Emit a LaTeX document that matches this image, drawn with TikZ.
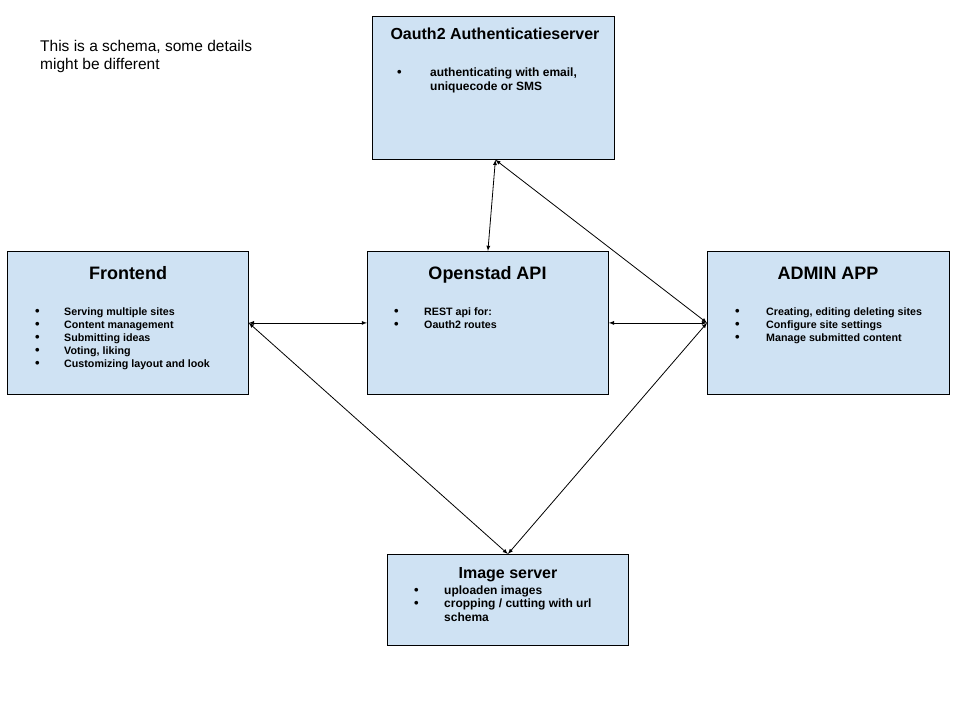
\documentclass[tikz,border=0pt]{standalone}
\usepackage{fontspec}
\setmainfont{Liberation Sans}
\definecolor{boxblue}{HTML}{CFE2F3}
\newcommand{\dotmark}{{\fontsize{13}{13}\selectfont\textbullet}}
\begin{document}
\begin{tikzpicture}[
			x=1pt, y=-1pt,
			box/.style={draw, fill=boxblue, line width=0.8pt, anchor=north west, inner sep=0, minimum width=241pt, minimum height=143pt},
			title/.style={anchor=base, inner sep=0, font=\bfseries\fontsize{18}{20}\selectfont},
			items/.style={anchor=base west, inner sep=0, font=\bfseries\fontsize{10.7}{13}\selectfont},
			link/.style={<->, >=latex, line width=0.8pt},
		]
		\useasboundingbox (0,0) rectangle (960,720);
		\node[anchor=base west, inner sep=0, align=left, font=\fontsize{15.5}{18}\selectfont] (note) at (40,69) {This is a schema, some details\\might be different};
		% boxes
		\node[box, minimum width=242pt] (auth) at (372,16) {};
		\node[box] (front) at (7,251) {};
		\node[box] (api) at (367,251) {};
		\node[box, minimum width=242pt] (admin) at (707,251) {};
		\node[box, minimum height=91pt] (image) at (387,554) {};
		% titles
		\node[title, font=\bfseries\fontsize{16}{18}\selectfont] (authtitle) at (495,39) {Oauth2 Authenticatieserver};
		\node[title] (fronttitle) at (128,279) {Frontend};
		\node[title] (apititle) at (487.5,279) {Openstad API};
		\node[title] (admintitle) at (828,279) {ADMIN APP};
		\node[title, font=\bfseries\fontsize{16}{18}\selectfont] (imagetitle) at (508,578) {Image server};
		% lists
		\node[items, font=\bfseries\fontsize{12}{14}\selectfont] (authlist) at (397,76) {\begin{tabular}[t]{@{}p{33pt}@{}l@{}}
			\dotmark & authenticating with email,\\
			& uniquecode or SMS
		\end{tabular}};
		\node[items] (frontlist) at (35,315) {\begin{tabular}[t]{@{}p{29pt}@{}l@{}}
			\dotmark & Serving multiple sites\\
			\dotmark & Content management\\
			\dotmark & Submitting ideas\\
			\dotmark & Voting, liking\\
			\dotmark & Customizing layout and look
		\end{tabular}};
		\node[items] (apilist) at (394,315) {\begin{tabular}[t]{@{}p{30pt}@{}l@{}}
			\dotmark & REST api for:\\
			\dotmark & Oauth2 routes
		\end{tabular}};
		\node[items] (adminlist) at (735,315) {\begin{tabular}[t]{@{}p{31pt}@{}l@{}}
			\dotmark & Creating, editing deleting sites\\
			\dotmark & Configure site settings\\
			\dotmark & Manage submitted content
		\end{tabular}};
		\node[items, font=\bfseries\fontsize{12}{13.5}\selectfont] (imagelist) at (414,594) {\begin{tabular}[t]{@{}p{30pt}@{}l@{}}
			\dotmark & uploaden images\\
			\dotmark & cropping / cutting with url\\
			& schema
		\end{tabular}};
		% connectors
		\draw[link] ([xshift=2pt]auth.south) -- (api.north);
		\draw[link] ([xshift=2pt]auth.south) -- (admin.west);
		\draw[link] (front.east) -- (api.west);
		\draw[link] (api.east) -- (admin.west);
		\draw[link] (front.east) -- (image.north);
		\draw[link] (admin.west) -- (image.north);
		\end{tikzpicture}
\end{document}
